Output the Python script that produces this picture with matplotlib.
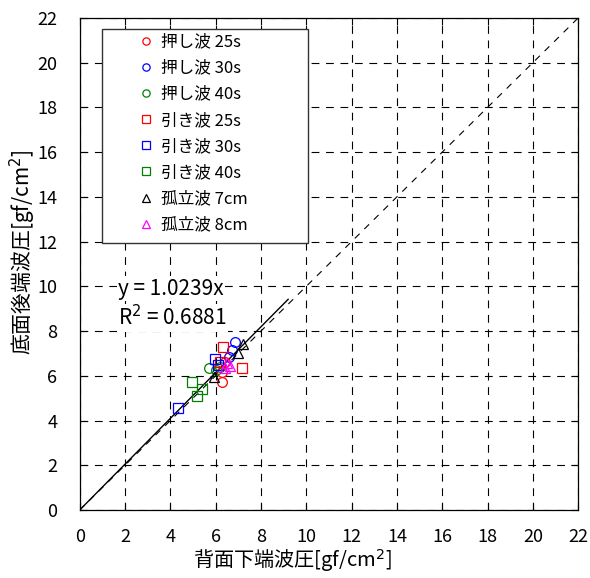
import matplotlib
matplotlib.use("Agg")
import matplotlib.pyplot as plt
from matplotlib.patches import Rectangle

plt.rcParams['font.family'] = ['Noto Sans CJK JP', 'DejaVu Sans']

# data (x: 背面下端波圧, y: 底面後端波圧)
push25_x = [6.28, 6.28, 6.40]
push25_y = [5.74, 6.18, 6.60]
push30_x = [6.87, 6.72, 6.57]
push30_y = [7.50, 7.15, 6.85]
push40_x = [5.69, 6.00, 6.20]
push40_y = [6.33, 6.26, 6.41]
pull25_x = [6.33, 7.16, 6.20]
pull25_y = [7.30, 6.36, 6.60]
pull30_x = [4.36, 5.98, 6.10]
pull30_y = [4.57, 6.75, 6.50]
pull40_x = [4.96, 5.17, 5.40]
pull40_y = [5.72, 5.09, 5.39]
sol7_x = [7.20, 7.00, 5.95]
sol7_y = [7.40, 7.00, 5.95]
sol8_x = [6.65, 6.43, 6.50]
sol8_y = [6.45, 6.35, 6.56]

slope = 1.0239
r2 = 0.6881
fit_x = [0, 9.2]

series = [
    ("押し波 25s", push25_x, push25_y, 'o', '#FF0000'),
    ("押し波 30s", push30_x, push30_y, 'o', '#0000FF'),
    ("押し波 40s", push40_x, push40_y, 'o', '#008000'),
    ("引き波 25s", pull25_x, pull25_y, 's', '#FF0000'),
    ("引き波 30s", pull30_x, pull30_y, 's', '#0000FF'),
    ("引き波 40s", pull40_x, pull40_y, 's', '#008000'),
    ("孤立波 7cm", sol7_x, sol7_y, '^', '#000000'),
    ("孤立波 8cm", sol8_x, sol8_y, '^', '#FF00FF'),
]

fig = plt.figure(figsize=(5.9, 5.78), dpi=100)
ax = fig.add_axes([0.135, 0.1176, 0.845, 0.8514])

ax.plot([0, 22], [0, 22], color='black', lw=0.8, ls=(0, (6, 6)), zorder=2)
ax.plot(fit_x, [slope * v for v in fit_x], color='black', lw=1.0, zorder=2)

for name, xs, ys, mk, c in series:
    ax.plot(xs, ys, ls='none', marker=mk, ms=7, mfc='none', mec=c, mew=0.9,
            label=name, zorder=3)

ax.set_xlim(0, 22)
ax.set_ylim(0, 22)
ax.set_xticks(range(0, 23, 2))
ax.set_yticks(range(0, 23, 2))
ax.grid(True, color='black', lw=0.8, ls=(0, (7, 6)))
ax.tick_params(direction='in', top=True, right=True, length=5, width=0.8,
               labelsize=13, pad=16)
ax.tick_params(axis='x', pad=13)
for s in ax.spines.values():
    s.set_linewidth(0.9)

ax.set_xlabel("背面下端波圧[gf/cm$^2$]", fontsize=14.5)
ax.set_ylabel("底面後端波圧[gf/cm$^2$]", fontsize=15)
ax.xaxis.set_label_coords(0.426, -0.075)
ax.yaxis.set_label_coords(-0.084, 0.524)

ax.text(1.7, 9.9, "y = 1.0239x", fontsize=15, va='center', ha='left',
        bbox=dict(facecolor='white', edgecolor='none', pad=1), zorder=4)
ax.text(1.7, 8.6, "R$^2$ = %.4f" % r2, fontsize=15, va='center', ha='left',
        bbox=dict(facecolor='white', edgecolor='none', pad=1), zorder=4)

ax.add_patch(Rectangle((0.0445, 0.542), 0.414, 0.435, transform=ax.transAxes,
                       facecolor='white', edgecolor='#333333', lw=1.0, zorder=4))
leg = ax.legend(loc='upper left', bbox_to_anchor=(0.104, 0.982), frameon=False,
                fontsize=12, handlelength=1.0, handletextpad=0.4,
                labelspacing=0.55, markerscale=0.75, borderaxespad=0)
leg.set_zorder(5)

fig.savefig("out.png", dpi=100)
